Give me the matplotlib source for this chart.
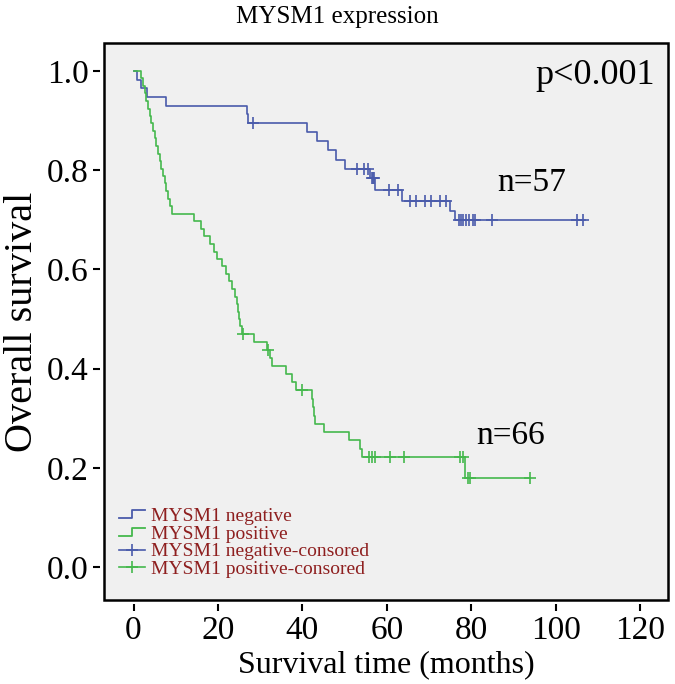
import numpy as np
import matplotlib
matplotlib.use("Agg")
import matplotlib.pyplot as plt
from matplotlib.lines import Line2D
from matplotlib.patches import Rectangle
from matplotlib.legend_handler import HandlerBase

plt.rcParams['font.family'] = ['Liberation Serif', 'DejaVu Serif']

# Kaplan-Meier steps (time in months, survival after the step)
neg_t = [0, 0.8, 1.8, 3.3, 7.6, 26.8, 27.2, 41.0, 43.5, 46.0, 48.0, 50.0, 56.0, 57.3,
         63.5, 75.0, 76.2, 107.0]
neg_s = [1.0, 0.982, 0.965, 0.947, 0.930, 0.912, 0.895, 0.877, 0.858, 0.840, 0.821,
         0.803, 0.785, 0.759, 0.737, 0.718, 0.700, 0.700]
neg_cens = [28.2, 53.0, 54.5, 55.5, 56.5, 56.8, 57.0, 60.4, 62.7, 65.5, 67.0, 69.0,
            70.5, 72.5, 74.0, 77.0, 77.5, 78.0, 78.7, 79.5, 80.3, 81.0, 85.0, 105.0, 106.5]

pos_t = [0, 1.8, 2.2, 2.6, 3.0, 3.4, 3.8, 4.2, 4.6, 5.0, 5.4, 5.8, 6.2, 6.6, 7.0, 7.4,
         7.8, 8.2, 8.6, 9.1,
         14.3, 15.9, 16.8, 18.2, 19.0, 19.8, 21.0, 21.8, 22.6, 23.3, 24.1, 24.4, 24.7,
         25.0, 25.3, 25.6,
         28.6, 31.5, 32.4, 32.8, 36.2, 37.5, 38.5, 42.3, 42.5, 42.7, 43.0, 45.0, 51.0,
         53.7, 54.0, 78.6, 93.8]
pos_s = [1.0, 0.985, 0.970, 0.955, 0.939, 0.924, 0.909, 0.894, 0.879, 0.864, 0.848,
         0.833, 0.818, 0.803, 0.788, 0.773, 0.758, 0.742, 0.727, 0.712,
         0.697, 0.682, 0.667, 0.652, 0.636, 0.621, 0.606, 0.591, 0.576, 0.561, 0.545,
         0.530, 0.515, 0.500, 0.485, 0.470,
         0.453, 0.437, 0.421, 0.405, 0.389, 0.373, 0.357, 0.339, 0.322, 0.305, 0.289,
         0.272, 0.256, 0.239, 0.222, 0.179, 0.179]
pos_cens = [25.9, 31.9, 40.0, 55.7, 56.5, 57.3, 60.8, 64.0, 77.4, 78.1, 79.2, 79.6, 93.8]

labels = ['MYSM1 negative', 'MYSM1 positive',
          'MYSM1 negative-consored', 'MYSM1 positive-consored']
blue = '#4a5bab'
green = '#45b84d'
legend_red = '#8e1f1f'


def surv_at(times, surv, c):
    i = np.searchsorted(times, c, side='right') - 1
    return np.array(surv)[i]


class StepHandler(HandlerBase):
    # little step glyph like the SPSS legend
    def create_artists(self, legend, orig_handle, xdescent, ydescent, width, height,
                       fontsize, trans):
        x0 = -xdescent
        xm = x0 + width * 0.5
        lo = -ydescent + height * 0.2
        hi = -ydescent + height * 0.8
        ln = Line2D([x0, xm, xm, x0 + width], [lo, lo, hi, hi],
                    color=orig_handle.get_color(), lw=1.3, transform=trans)
        return [ln]


fig = plt.figure(figsize=(6.75, 6.84), dpi=100)
ax = fig.add_axes([104 / 675, 1 - 600 / 684, 564 / 675, 557 / 684])
ax.set_facecolor('#f0f0f0')

l1, = ax.step(neg_t, neg_s, where='post', color=blue, lw=1.2)
l2, = ax.step(pos_t, pos_s, where='post', color=green, lw=1.2)
ax.plot(neg_cens, surv_at(neg_t, neg_s, np.array(neg_cens)), '+', color=blue,
        ms=9, mew=1.2, ls='none')
ax.plot(pos_cens, surv_at(pos_t, pos_s, np.array(pos_cens)), '+', color=green,
        ms=9, mew=1.2, ls='none')

ax.set_xlim(-7, 126.6)
ax.set_ylim(-0.066, 1.056)
ax.set_xticks(np.arange(0, 121, 20))
ax.set_yticks(np.arange(0, 1.01, 0.2))
ax.set_yticklabels(['%.1f' % v for v in np.arange(0, 1.01, 0.2)])

for s in ax.spines.values():
    s.set_visible(False)
ax.spines['left'].set_position(('outward', 3))
ax.spines['bottom'].set_position(('outward', 3))
ax.add_patch(Rectangle((0, 0), 1, 1, transform=ax.transAxes, fill=False,
                       ec='black', lw=1.8, clip_on=False, zorder=5))
ax.tick_params(direction='out', length=5, width=1.5, labelsize=24, pad=3)

ax.set_xlabel('Survival time (months)', fontsize=23, labelpad=3)
ax.set_ylabel('Overall survival', fontsize=29, labelpad=4)
fig.text(0.5, 1 - 17 / 684, 'MYSM1 expression', ha='center', va='center', fontsize=18)

ax.text(109.3, 0.99, 'p<0.001', ha='center', va='center', fontsize=26)
ax.text(94.4, 0.775, 'n=57', ha='center', va='center', fontsize=24)
ax.text(89.2, 0.264, 'n=66', ha='center', va='center', fontsize=24)

# legend proxies for the censor marks: a short line with a cross on it
h3 = Line2D([], [], color=blue, marker='+', ms=9, mew=1.2, lw=1.2)
h4 = Line2D([], [], color=green, marker='+', ms=9, mew=1.2, lw=1.2)
leg = ax.legend([l1, l2, h3, h4], labels, loc='lower left',
                bbox_to_anchor=(0.01, 0.022), frameon=False, fontsize=14,
                handlelength=1.3, handletextpad=0.35, labelspacing=0.0,
                borderpad=0, handler_map={l1: StepHandler(), l2: StepHandler()})
for t in leg.get_texts():
    t.set_color(legend_red)

fig.savefig('out.png', dpi=100)
